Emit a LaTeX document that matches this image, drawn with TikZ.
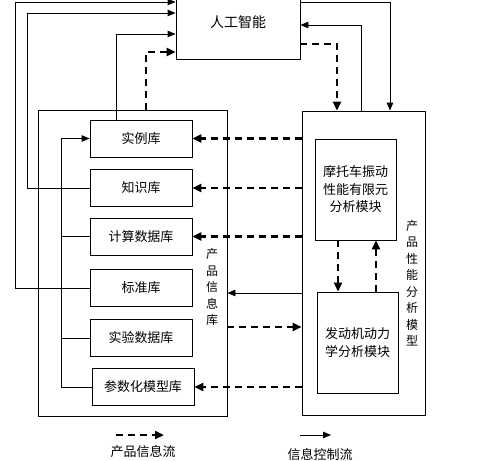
\documentclass[tikz,border=0pt]{standalone}
\usepackage{fontspec}
\newfontfamily\cjk{Noto Sans CJK SC}
\usetikzlibrary{arrows.meta}
\begin{document}
\begin{tikzpicture}[x=1pt,y=-1pt]
\tikzstyle{every node}=[font=\cjk\fontsize{13}{17.5}\selectfont]
\tikzstyle{box}=[draw,line width=0.9pt,inner sep=0pt]
\tikzstyle{db}=[box,minimum width=102pt,minimum height=37pt]
\tikzstyle{ctrl}=[line width=0.9pt,-{Triangle[length=8pt,width=6.5pt]}]
\tikzstyle{info}=[line width=2.4pt,dash pattern=on 7pt off 5pt,-{Triangle[length=9pt,width=8pt]}]
\tikzstyle{vlabel}=[align=center,font=\cjk\fontsize{12}{16.5}\selectfont]
\path[use as bounding box,clip] (0,0) rectangle (499,461);
\node (AI) [box,minimum width=124pt,minimum height=74pt,font=\cjk\fontsize{14}{16}\selectfont] at (238,22) {人工智能};
\node (PI) [box,minimum width=189pt,minimum height=306pt] at (132.5,263) {};
\node (PM) [box,minimum width=123pt,minimum height=304pt] at (363.5,263) {};
\node (SL) [db] at (141,138.5) {实例库};
\node (ZS) [db] at (141,188) {知识库};
\node (JS) [db] at (141,236.5) {计算数据库};
\node (BZ) [db] at (141,288) {标准库};
\node (SY) [db] at (141,338) {实验数据库};
\node (CS) [db] at (143,387) {参数化模型库};
\node (FE) [box,minimum width=81pt,minimum height=101pt,align=center] at (355.5,189.5) {摩托车振动\\性能有限元\\分析模块};
\node (DM) [box,minimum width=81pt,minimum height=101pt,align=center] at (357.5,342.5) {发动机动力\\学分析模块};
\node (PIL) [vlabel] at (212,287) {产\\品\\信\\息\\库};
\node (PML) [vlabel] at (412,283) {产\\品\\性\\能\\分\\析\\模\\型};
\node (L1) at (143,452) {产品信息流};
\node (L2) at (320,455) {信息控制流};
\coordinate (T1) at (15,2);
\coordinate (T2) at (27,13);
\coordinate (T3) at (116,34);
\coordinate (T4) at (146,52);
\coordinate (R1) at (390,2);
\coordinate (R2) at (361,25);
\coordinate (R3) at (337,44);
\coordinate (B) at (61,138.5);
\coordinate (C1) at (0,293);
\coordinate (C2) at (0,327);
\coordinate (M1) at (338,0);
\coordinate (M2) at (376,0);
\coordinate (L1a) at (116,435);
\coordinate (L1b) at (164,435);
\coordinate (L2a) at (300,435);
\coordinate (L2b) at (331,435);
\draw[ctrl] (BZ.west) -| (T1) -- (T1 -| AI.west);
\draw[ctrl] (ZS.west) -| (T2) -- (T2 -| AI.west);
\draw[ctrl] (SL.north -| T3) -- (T3) -- (T3 -| AI.west);
\draw[info] (PI.north -| T4) -- (T4) -- (T4 -| AI.west);
\draw[ctrl] (R1 -| AI.east) -- (R1) -- (R1 |- PM.north);
\draw[ctrl] (R2 |- PM.north) -- (R2) -- (R2 -| AI.east);
\draw[info] (R3 -| AI.east) -- (R3) -- (R3 |- PM.north);
\draw[ctrl] (CS.west) -| (B) -- (SL.west);
\draw[line width=0.9pt] (JS.west) -- (JS.west -| B);
\draw[line width=0.9pt] (SY.west) -- (SY.west -| B);
\draw[info] (SL.east -| PM.west) -- (SL.east);
\draw[info] (ZS.east -| PM.west) -- (ZS.east);
\draw[info] (JS.east -| PM.west) -- (JS.east);
\draw[ctrl] (C1 -| PM.west) -- (C1 -| PI.east);
\draw[info] (C2 -| PI.east) -- (C2 -| PM.west);
\draw[info] (CS.east -| PM.west) -- (CS.east);
\draw[info] (M1 |- FE.south) -- (M1 |- DM.north);
\draw[info] (M2 |- DM.north) -- (M2 |- FE.south);
\draw[info] (L1a) -- (L1b);
\draw[ctrl] (L2a) -- (L2b);
\end{tikzpicture}
\end{document}
